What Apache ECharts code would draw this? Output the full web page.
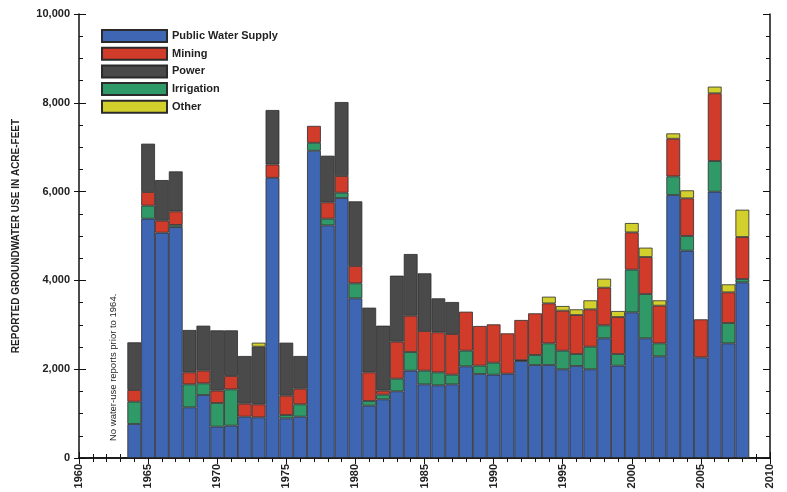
<!DOCTYPE html>
<html>
<head>
<meta charset="utf-8">
<script src="https://cdn.jsdelivr.net/npm/echarts@6/dist/echarts.min.js"></script>
<style>
  html, body { margin: 0; padding: 0; background: #fff; }
  #chart { width: 787px; height: 492px; }
</style>
</head>
<body>
<div id="chart"></div>
<script>
// years with reported use
var years = [];
for (var y = 1964; y <= 2008; y++) years.push(y);

// acre-feet
var publicSupply = [766, 5390, 5075, 5200, 1141, 1419, 706, 728, 931, 916,
  6310, 893, 931, 6920, 5240, 5855, 3596, 1178, 1321, 1502,
  1967, 1659, 1636, 1659, 2064, 1892, 1877, 1899, 2184, 2094,
  2094, 1997, 2072, 1997, 2695, 2080, 3280, 2695, 2290, 5923,
  4669, 2267, 5998, 2582, 3956];
var irrigation = [502, 293, 0, 50, 518, 262, 533, 818, 0, 0,
  0, 75, 278, 180, 150, 120, 338, 106, 105, 284,
  420, 308, 293, 218, 353, 188, 270, 0, 20, 226,
  488, 420, 270, 510, 293, 262, 961, 998, 292, 420,
  331, 0, 690, 458, 75];
var mining = [263, 307, 270, 305, 270, 286, 278, 301, 293, 293,
  300, 436, 352, 380, 368, 376, 390, 645, 91, 834,
  818, 893, 901, 915, 878, 893, 863, 908, 904, 938,
  901, 901, 878, 841, 848, 833, 841, 834, 849, 848,
  848, 856, 1526, 691, 946];
var power = [1074, 1089, 915, 900, 954, 1013, 1358, 1028, 1073, 1298,
  1227, 1193, 736, 0, 1050, 1666, 1456, 1457, 1463, 1486,
  1389, 1299, 766, 721, 0, 0, 0, 0, 0, 0,
  0, 0, 0, 0, 0, 0, 0, 0, 0, 0,
  0, 0, 0, 0, 0];
var other = [0, 0, 0, 0, 0, 0, 0, 0, 0, 90,
  0, 0, 0, 0, 0, 0, 0, 0, 0, 0,
  0, 0, 0, 0, 0, 0, 0, 0, 0, 0,
  150, 105, 128, 203, 202, 135, 210, 210, 120, 120,
  180, 0, 150, 180, 615];

var legendNames = ['Public Water Supply', 'Mining', 'Power', 'Irrigation', 'Other'];

// full 1960-2010 span so each bar sits on its year tick
var axisYears = [];
for (var a = 1960; a <= 2010; a++) axisYears.push(String(a));

var chart = echarts.init(document.getElementById('chart'));

function spread(arr) {
  return axisYears.map(function (yr) {
    var i = years.indexOf(+yr);
    if (i < 0 || !arr[i]) return '-';
    return arr[i];
  });
}

function barSeries(name, arr, color) {
  return {
    name: name,
    type: 'bar',
    stack: 'use',
    xAxisIndex: 2,
    yAxisIndex: 0,
    barWidth: 13.8,
    itemStyle: { color: color, borderColor: '#2b2b2b', borderWidth: 0.8 },
    data: spread(arr)
  };
}

var fontBold = { fontFamily: 'Liberation Sans', fontWeight: 'bold', color: '#222' };

var option = {
  animation: false,
  backgroundColor: '#fff',
  textStyle: { fontFamily: 'Liberation Sans' },
  grid: { left: 79, right: 17, top: 14, bottom: 34, containLabel: false },
  legend: {
    data: legendNames,
    orient: 'vertical',
    left: 101,
    top: 29,
    padding: 0,
    icon: 'rect',
    itemWidth: 65,
    itemHeight: 12,
    itemGap: 3.7,
    textStyle: { fontFamily: 'Liberation Sans', fontWeight: 'bold', fontSize: 11, color: '#222' },
    selectedMode: false
  },
  xAxis: [{
    type: 'value',
    position: 'bottom',
    min: 1960, max: 2010, interval: 5,
    axisLine: { lineStyle: { color: '#111', width: 1.5 } },
    axisTick: { inside: true, length: 6, lineStyle: { color: '#111' } },
    minorTick: { show: true, splitNumber: 5, length: 4, lineStyle: { color: '#111' } },
    splitLine: { show: false },
    axisLabel: Object.assign({
      rotate: 90, fontSize: 11, margin: 6,
      formatter: function (v) { return String(v); }
    }, fontBold)
  }, {
    type: 'value',
    position: 'top',
    min: 1960, max: 2010, interval: 5,
    axisLine: { lineStyle: { color: '#111', width: 1.5 } },
    axisTick: { inside: true, length: 6, lineStyle: { color: '#111' } },
    minorTick: { show: true, splitNumber: 5, length: 4, lineStyle: { color: '#111' } },
    splitLine: { show: false },
    axisLabel: { show: false }
  }, {
    // hidden category axis that carries the bars
    type: 'category',
    data: axisYears,
    boundaryGap: false,
    show: false
  }],
  yAxis: [{
    type: 'value',
    position: 'left',
    min: 0, max: 10000, interval: 2000,
    name: 'REPORTED GROUNDWATER USE IN ACRE-FEET',
    nameLocation: 'middle',
    nameGap: 58,
    nameTextStyle: Object.assign({ fontSize: 10 }, fontBold),
    axisLine: { lineStyle: { color: '#111', width: 1.5 } },
    axisTick: { inside: true, length: 7, lineStyle: { color: '#111' } },
    minorTick: { show: true, splitNumber: 4, length: 4, lineStyle: { color: '#111' } },
    splitLine: { show: false },
    axisLabel: Object.assign({
      fontSize: 11, margin: 9,
      formatter: function (v) { return v.toString().replace(/\B(?=(\d{3})+(?!\d))/g, ','); }
    }, fontBold)
  }, {
    type: 'value',
    position: 'right',
    min: 0, max: 10000, interval: 2000,
    axisLine: { lineStyle: { color: '#111', width: 1.5 } },
    axisTick: { inside: true, length: 7, lineStyle: { color: '#111' } },
    minorTick: { show: true, splitNumber: 4, length: 4, lineStyle: { color: '#111' } },
    splitLine: { show: false },
    axisLabel: { show: false }
  }, {
    // outer stubs of the major ticks on the left
    type: 'value',
    position: 'left',
    min: 0, max: 10000, interval: 2000,
    axisLine: { show: false },
    axisTick: { inside: false, length: 5, lineStyle: { color: '#111' } },
    splitLine: { show: false },
    axisLabel: { show: false }
  }],
  graphic: [{
    type: 'text',
    x: 108,
    y: 441,
    rotation: Math.PI / 2,
    style: {
      text: 'No water-use reports prior to 1964.',
      font: '9.5px Liberation Sans',
      fill: '#222'
    }
  }],
  series: [
    barSeries('Public Water Supply', publicSupply, '#3f66b3'),
    barSeries('Irrigation', irrigation, '#2f9a68'),
    barSeries('Mining', mining, '#d13b2a'),
    barSeries('Power', power, '#4a4a4a'),
    barSeries('Other', other, '#d3cf2c')
  ]
};

chart.setOption(option);
</script>
</body>
</html>
